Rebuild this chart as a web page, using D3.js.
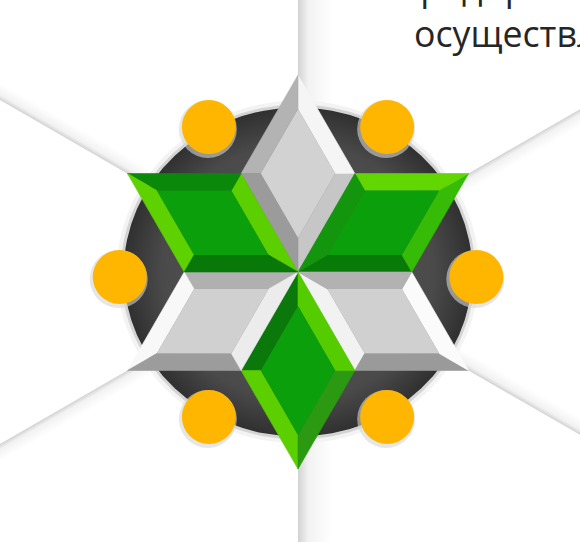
<!DOCTYPE html>
<html>
<head>
<meta charset="utf-8">
<script src="https://cdn.jsdelivr.net/npm/d3@7"></script>
<style>
  html, body { margin: 0; padding: 0; background: #fff; overflow: hidden; }
  text { font-family: "Open Sans", sans-serif; }
</style>
</head>
<body>
<svg id="chart" width="580" height="542"></svg>
<script>
// Data: one rhombus per axis direction (degrees, counter-clockwise from east)
const rhombusAngles = [90, 30, -30, -90, -150, 150];
const rhombusKinds = ["silver", "green", "silver", "green", "silver", "green"];
const dotAngles = [0, 60, 120, 180, 240, 300];
const beamAngles = [90, 30, 150];
const textLines = ["предприятий", "осуществляют"];

const WIDTH = 580, HEIGHT = 542;
const CX = 298, CY = 272, UNIT = 197;
const BEVEL = 17;
const DOT_R = 27;

// facet colours, edges ordered centre->side1->tip->side2->centre
const shades = [
  {face: "#d2d2d2", edges: ["#c6c6c6", "#f5f5f5", "#b3b3b3", "#9b9b9b"]},
  {face: "#0b9f0b", edges: ["#077a07", "#36bb06", "#62d600", "#14950e"]},
  {face: "#d0d0d0", edges: ["#f2f2f2", "#9a9a9a", "#fbfbfb", "#b2b2b2"]},
  {face: "#0b9f0b", edges: ["#0a780a", "#5ccf00", "#2b9a12", "#55cc00"]},
  {face: "#d0d0d0", edges: ["#b0b0b0", "#f8f8f8", "#9c9c9c", "#ececec"]},
  {face: "#0b9f0b", edges: ["#5ccf00", "#0a880a", "#5ed200", "#087808"]},
];

const x = d3.scaleLinear().domain([-1, 1]).range([CX - UNIT, CX + UNIT]);
const y = d3.scaleLinear().domain([-1, 1]).range([CY + UNIT, CY - UNIT]);
const rad = d => d * Math.PI / 180;

const svg = d3.select("#chart");
const defs = svg.append("defs");

const beamGrad = defs.append("linearGradient")
  .attr("id", "beam").attr("x1", 0).attr("y1", 0).attr("x2", 0).attr("y2", 1);
beamGrad.append("stop").attr("offset", "0%").attr("stop-color", "#d2d2d2");
beamGrad.append("stop").attr("offset", "30%").attr("stop-color", "#f2f2f2");
beamGrad.append("stop").attr("offset", "100%").attr("stop-color", "#ffffff");

const discGrad = defs.append("radialGradient").attr("id", "disc");
discGrad.append("stop").attr("offset", "0%").attr("stop-color", "#5a5a5a");
discGrad.append("stop").attr("offset", "78%").attr("stop-color", "#4a4a4a");
discGrad.append("stop").attr("offset", "100%").attr("stop-color", "#303030");

// Beams behind everything
const beams = svg.append("g").attr("class", "layer layer-beams");
beams.selectAll("g.beam").data(beamAngles)
  .enter().append("g")
    .attr("class", "beam")
    .attr("transform", d => `translate(${x(0)},${y(0)}) rotate(${-d})`)
  .append("rect")
    .attr("x", -460).attr("width", 920)
    .attr("y", 0)
    .attr("height", d => Math.abs(Math.sin(rad(d))) > 0.99 ? 34 : 15)
    .attr("fill", "url(#beam)");

// Dark disc with light rim
const disc = svg.append("g").attr("class", "layer layer-disc");
disc.append("ellipse")
  .attr("cx", x(0)).attr("cy", y(0))
  .attr("rx", x(0.92) - x(0)).attr("ry", y(0) - y(0.87))
  .attr("fill", "#f3f3f3");
disc.append("ellipse")
  .attr("cx", x(0)).attr("cy", y(0))
  .attr("rx", x(0.9) - x(0)).attr("ry", y(0) - y(0.85))
  .attr("fill", "#d4d4d4");
disc.append("ellipse")
  .attr("cx", x(0)).attr("cy", y(0))
  .attr("rx", x(0.885) - x(0)).attr("ry", y(0) - y(0.835))
  .attr("fill", "url(#disc)");

// Orange dots on the rim
const dots = svg.append("g").attr("class", "layer layer-dots");
const dotPos = a => [x(0.905 * Math.cos(rad(a))), y(0.85 * Math.sin(rad(a))) + (Math.abs(Math.sin(rad(a))) < 0.01 ? 5 : 0)];
dots.selectAll("circle.shadow").data(dotAngles)
  .enter().append("circle")
    .attr("class", "shadow")
    .attr("cx", d => dotPos(d)[0] - 1).attr("cy", d => dotPos(d)[1] + 2)
    .attr("r", DOT_R + 2)
    .attr("fill", "#d6d6d6").attr("opacity", 0.6);
dots.selectAll("circle.dot").data(dotAngles)
  .enter().append("circle")
    .attr("class", "dot")
    .attr("cx", d => dotPos(d)[0]).attr("cy", d => dotPos(d)[1])
    .attr("r", DOT_R)
    .attr("fill", "#ffb600");

// Rhombus geometry in pixels
function rhombusPoints(theta) {
  const s = 1 / Math.sqrt(3);
  const pts = [
    [0, 0],
    [s * Math.cos(rad(theta - 30)), s * Math.sin(rad(theta - 30))],
    [Math.cos(rad(theta)), Math.sin(rad(theta))],
    [s * Math.cos(rad(theta + 30)), s * Math.sin(rad(theta + 30))],
  ];
  return pts.map(p => [x(p[0]), y(p[1])]);
}

function insetPoints(pts, d) {
  return pts.map((p, i) => {
    const prev = pts[(i + pts.length - 1) % pts.length];
    const next = pts[(i + 1) % pts.length];
    const a = [prev[0] - p[0], prev[1] - p[1]];
    const b = [next[0] - p[0], next[1] - p[1]];
    const la = Math.hypot(a[0], a[1]), lb = Math.hypot(b[0], b[1]);
    const bis = [a[0] / la + b[0] / lb, a[1] / la + b[1] / lb];
    const lbis = Math.hypot(bis[0], bis[1]);
    const half = Math.acos((a[0] * b[0] + a[1] * b[1]) / (la * lb)) / 2;
    const k = d / Math.sin(half);
    return [p[0] + bis[0] / lbis * k, p[1] + bis[1] / lbis * k];
  });
}

const line = d3.line();
const rhombi = svg.append("g").attr("class", "layer layer-rhombi");
rhombusAngles.forEach((theta, i) => {
  const outer = rhombusPoints(theta);
  const inner = insetPoints(outer, BEVEL);
  const g = rhombi.append("g").attr("class", `rhombus rhombus-${rhombusKinds[i]}`);
  g.selectAll("path.facet").data(d3.range(4))
    .enter().append("path")
      .attr("class", "facet")
      .attr("d", k => line([outer[k], outer[(k + 1) % 4], inner[(k + 1) % 4], inner[k]]) + "Z")
      .attr("fill", k => shades[i].edges[k])
      .attr("stroke", k => shades[i].edges[k])
      .attr("stroke-width", 0.6);
  g.append("path")
    .attr("class", "face")
    .attr("d", line(inner) + "Z")
    .attr("fill", shades[i].face);
});

// Text fragment at the top right (cut by the picture's edges).
// Size the font so the visible word "осуществ" spans ~163px as in the picture.
const probe = svg.append("text").attr("font-size", 36).text("осуществ");
const probeW = probe.node().getComputedTextLength();
probe.remove();
const fontSize = 36 * 163 / probeW;

svg.append("g").attr("class", "layer layer-text")
  .selectAll("text").data(textLines)
  .enter().append("text")
    .attr("x", (d, i) => i === 0 ? 398 : 414)
    .attr("y", (d, i) => 0 + i * 47)
    .attr("font-size", fontSize)
    .attr("fill", "#262626")
    .text(d => d);
</script>
</body>
</html>
